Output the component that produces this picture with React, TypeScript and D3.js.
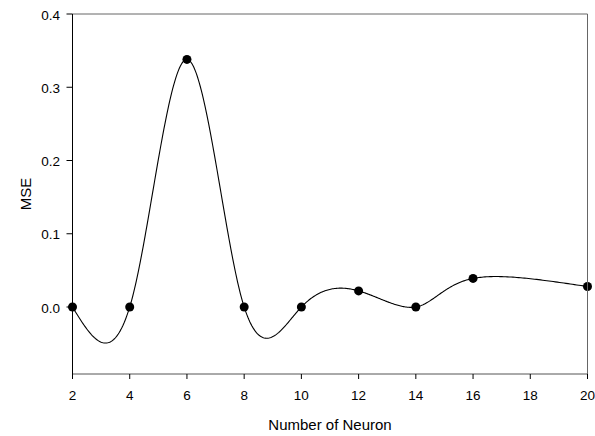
import React from "react";
import * as d3 from "d3";

const neurons = [2, 4, 6, 8, 10, 12, 14, 16, 20];
const mse = [0.0, 0.0, 0.338, 0.0, 0.0, 0.022, 0.0, 0.039, 0.028];
const xTicks = [2, 4, 6, 8, 10, 12, 14, 16, 18, 20];
const yTicks = [0.0, 0.1, 0.2, 0.3, 0.4];

// natural spline tangents over a uniform parameter (index)
function naturalTangents(ys: number[]) {
  const n = ys.length;
  const a = new Array(n).fill(0), b = new Array(n).fill(1), c = new Array(n).fill(0), r = new Array(n).fill(0);
  for (let i = 1; i < n - 1; i++) {
    a[i] = 1; b[i] = 4; c[i] = 1;
    r[i] = 6 * (ys[i + 1] - 2 * ys[i] + ys[i - 1]);
  }
  const M = new Array(n).fill(0), cp = new Array(n).fill(0), rp = new Array(n).fill(0);
  cp[0] = c[0] / b[0]; rp[0] = r[0] / b[0];
  for (let i = 1; i < n; i++) { const m = b[i] - a[i] * cp[i - 1]; cp[i] = c[i] / m; rp[i] = (r[i] - a[i] * rp[i - 1]) / m; }
  M[n - 1] = rp[n - 1];
  for (let i = n - 2; i >= 0; i--) M[i] = rp[i] - cp[i] * M[i + 1];
  return ys.map((_, i) =>
    i < n - 1 ? ys[i + 1] - ys[i] - (2 * M[i] + M[i + 1]) / 6 : ys[i] - ys[i - 1] + (M[i - 1] + 2 * M[i]) / 6
  );
}

function splinePoints(xs: number[], ys: number[], k: number, steps: number) {
  const tx = naturalTangents(xs);
  const ty = naturalTangents(ys).map(t => t * k);
  const out: [number, number][] = [];
  for (let i = 0; i < xs.length - 1; i++) {
    for (let j = 0; j <= steps; j++) {
      if (i > 0 && j === 0) continue;
      const s = j / steps, s2 = s * s, s3 = s2 * s;
      const h00 = 2 * s3 - 3 * s2 + 1, h01 = -2 * s3 + 3 * s2, h10 = s3 - 2 * s2 + s, h11 = s3 - s2;
      out.push([
        h00 * xs[i] + h01 * xs[i + 1] + h10 * tx[i] + h11 * tx[i + 1],
        h00 * ys[i] + h01 * ys[i + 1] + h10 * ty[i] + h11 * ty[i + 1],
      ]);
    }
  }
  return out;
}

export default function App() {
  const W = 595, H = 436;
  const left = 72.5, right = 587.5, top = 14, bottom = 374;
  const x = d3.scaleLinear().domain([2, 20]).range([left, right]);
  const y = d3.scaleLinear().domain([0, 0.4]).range([307, top]);
  const curvePts = splinePoints(neurons, mse, 0.88, 60);
  const line = d3.line<[number, number]>().x(d => x(d[0])).y(d => y(d[1]));
  const font = "'Liberation Sans', Arial, sans-serif";
  return (
    <svg width={W} height={H} style={{ position: "absolute", left: 0, top: 0 }}>
      <rect x={0} y={0} width={W} height={H} fill="white" />
      <path d={line(curvePts) || ""} fill="none" stroke="black" strokeWidth={1.1} />
      {neurons.map((n, i) => (
        <circle key={i} cx={x(n)} cy={y(mse[i])} r={4.5} fill="black" />
      ))}
      <line x1={left} x2={right} y1={top} y2={top} stroke="#666" strokeWidth={1} />
      <line x1={right} x2={right} y1={top} y2={bottom} stroke="#666" strokeWidth={1} />
      <line x1={left} x2={right} y1={bottom} y2={bottom} stroke="#555" strokeWidth={1} />
      <line x1={left} x2={left} y1={top} y2={bottom} stroke="black" strokeWidth={1} />
      {xTicks.map(t => (
        <g key={t}>
          <line x1={x(t)} x2={x(t)} y1={bottom} y2={bottom + 5} stroke="black" />
          <text x={x(t)} y={399.5} textAnchor="middle" fontFamily={font} fontSize={13.5}>{t}</text>
        </g>
      ))}
      {yTicks.map(t => (
        <g key={t}>
          <line x1={left - 6} x2={left} y1={y(t)} y2={y(t)} stroke="black" />
          <text x={left - 12.5} y={y(t) + 5.5} textAnchor="end" fontFamily={font} fontSize={13.5}>{t.toFixed(1)}</text>
        </g>
      ))}
      <text x={(left + right) / 2} y={430} textAnchor="middle" fontFamily={font} fontSize={15}>Number of Neuron</text>
      <text transform={`translate(31,${(top + bottom) / 2}) rotate(-90)`} textAnchor="middle" fontFamily={font} fontSize={15}>MSE</text>
    </svg>
  );
}
